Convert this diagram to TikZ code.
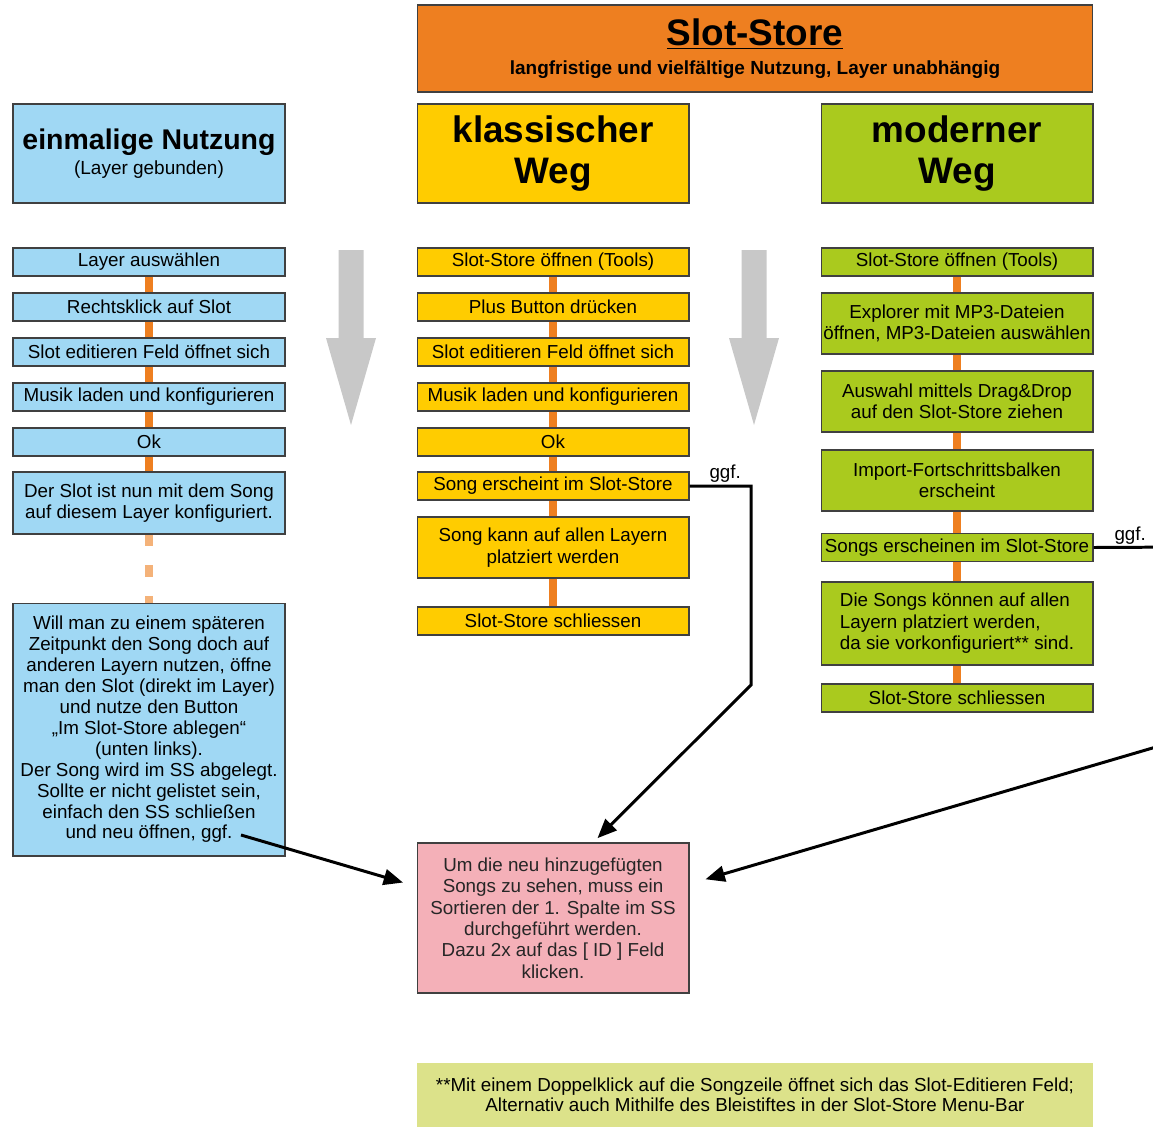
\documentclass[tikz,border=0pt]{standalone}
\usepackage{fontspec}
\setmainfont{Liberation Sans}
\usetikzlibrary{arrows.meta}

\definecolor{storeorange}{RGB}{238,127,32}
\definecolor{onceblue}{RGB}{160,216,244}
\definecolor{classicyellow}{RGB}{255,204,0}
\definecolor{moderngreen}{RGB}{170,202,30}
\definecolor{hintpink}{RGB}{244,176,184}
\definecolor{notegreen}{RGB}{220,226,138}
\definecolor{arrowgray}{RGB}{200,200,200}
\definecolor{boxline}{RGB}{64,64,64}

\begin{document}
\begin{tikzpicture}[x=0.02cm,y=-0.02cm,
  box/.style={draw=boxline,line width=0.6pt,minimum width=5.44cm,inner sep=0pt,
    align=center,font=\fontsize{10.7}{12.2}\selectfont},
  oneline/.style={box,minimum height=0.56cm},
  twoline/.style={box,minimum height=1.22cm},
  head/.style={box,minimum height=1.98cm,font=\bfseries\fontsize{21}{23.5}\selectfont},
  link/.style={draw=storeorange,line width=4pt},
  jump/.style={black,line width=1.7pt,-{Triangle[length=11pt,width=9pt]}},
  hint/.style={inner sep=1pt,font=\fontsize{10.7}{12.2}\selectfont}
]
\useasboundingbox (0,0) rectangle (1153,1126);
\clip (0,0) rectangle (1153,1126);
\fill[white] (0,0) rectangle (1153,1126);

% title and headers
\node[box,fill=storeorange,minimum width=13.52cm,minimum height=1.74cm] (store) at (755,48.5)
  {{\fontsize{21}{23}\selectfont\bfseries\underline{Slot-Store}}\\[4pt]
   {\bfseries\fontsize{10.8}{13}\selectfont langfristige und vielfältige Nutzung, Layer unabhängig}};
\node[head,fill=onceblue,font=\fontsize{10.8}{14}\selectfont] (once) at (149,153.5)
  {{\bfseries\fontsize{16.2}{19}\selectfont einmalige Nutzung}\\(Layer gebunden)};
\node[head,fill=classicyellow] (classic) at (553,153.5) {klassischer\\Weg};
\node[head,fill=moderngreen] (modern) at (957,153.5) {moderner\\Weg};

% einmalige Nutzung
\node[oneline,fill=onceblue] (l1) at (149,262) {Layer auswählen};
\node[oneline,fill=onceblue] (l2) at (149,307) {Rechtsklick auf Slot};
\node[oneline,fill=onceblue] (l3) at (149,352) {Slot editieren Feld öffnet sich};
\node[oneline,fill=onceblue] (l4) at (149,397) {Musik laden und konfigurieren};
\node[oneline,fill=onceblue] (l5) at (149,442) {Ok};
\node[box,fill=onceblue,minimum height=1.24cm] (l6) at (149,503)
  {Der Slot ist nun mit dem Song\\auf diesem Layer konfiguriert.};
\node[box,fill=onceblue,minimum height=5.06cm,font=\fontsize{10.7}{11.9}\selectfont] (l7) at (149,729.5)
  {Will man zu einem späteren\\Zeitpunkt den Song doch auf\\anderen Layern nutzen, öffne\\
   man den Slot (direkt im Layer)\\und nutze den Button\\„Im Slot-Store ablegen“\\(unten links).\\
   Der Song wird im SS abgelegt.\\Sollte er nicht gelistet sein,\\einfach den SS schließen\\und neu öffnen, ggf.};

% klassischer Weg
\node[oneline,fill=classicyellow] (m1) at (553,262) {Slot-Store öffnen (Tools)};
\node[oneline,fill=classicyellow] (m2) at (553,307) {Plus Button drücken};
\node[oneline,fill=classicyellow] (m3) at (553,352) {Slot editieren Feld öffnet sich};
\node[oneline,fill=classicyellow] (m4) at (553,397) {Musik laden und konfigurieren};
\node[oneline,fill=classicyellow] (m5) at (553,442) {Ok};
\node[oneline,fill=classicyellow] (m6) at (553,486) {Song erscheint im Slot-Store};
\node[twoline,fill=classicyellow] (m7) at (553,547.5) {Song kann auf allen Layern\\platziert werden};
\node[oneline,fill=classicyellow] (m8) at (553,621) {Slot-Store schliessen};

% moderner Weg
\node[oneline,fill=moderngreen] (r1) at (957,262) {Slot-Store öffnen (Tools)};
\node[twoline,fill=moderngreen] (r2) at (957,323.5) {Explorer mit MP3-Dateien\\öffnen, MP3-Dateien auswählen};
\node[twoline,fill=moderngreen] (r3) at (957,401.5) {Auswahl mittels Drag\&Drop\\auf den Slot-Store ziehen};
\node[twoline,fill=moderngreen] (r4) at (957,480.5) {Import-Fortschrittsbalken\\erscheint};
\node[oneline,fill=moderngreen] (r5) at (957,547.5) {Songs erscheinen im Slot-Store};
\node[box,fill=moderngreen,minimum height=1.66cm,align=left] (r6) at (957,623.5)
  {Die Songs können auf allen\\Layern platziert werden,\\da sie vorkonfiguriert** sind.};
\node[oneline,fill=moderngreen] (r7) at (957,698) {Slot-Store schliessen};

% Sortier-Hinweis und Fussnote
\node[box,fill=hintpink,minimum height=3cm,text=black!85] (sorthint) at (553,918)
  {Um die neu hinzugefügten\\Songs zu sehen, muss ein\\Sortieren der 1. Spalte im SS\\
   durchgeführt werden.\\Dazu 2x auf das [ ID ] Feld\\klicken.};
\node[fill=notegreen,minimum width=13.52cm,minimum height=1.28cm,inner sep=0pt,align=center,
  font=\fontsize{10.7}{11.2}\selectfont] (note) at (755,1095)
  {**Mit einem Doppelklick auf die Songzeile öffnet sich das Slot-Editieren Feld;\\
   Alternativ auch Mithilfe des Bleistiftes in der Slot-Store Menu-Bar};

\foreach \a/\b in {l1/l2,l2/l3,l3/l4,l4/l5,l5/l6,
  m1/m2,m2/m3,m3/m4,m4/m5,m5/m6,m6/m7,m7/m8,
  r1/r2,r2/r3,r3/r4,r4/r5,r5/r6,r6/r7}
  \draw[link] (\a.south) -- (\b.north);
\draw[link,draw opacity=.6,dash pattern=on 6.5pt off 11pt] (l6.south) -- (l7.north);

% graue Richtungspfeile
\foreach \cx in {351,754}
  \fill[arrowgray] ({\cx-12.5},250) -- ({\cx+12.5},250) -- ({\cx+12.5},338) -- ({\cx+25},338)
    -- (\cx,425) -- ({\cx-25},338) -- ({\cx-12.5},338) -- cycle;

% ggf.-Verbindungen
\coordinate (ggfL) at (241,835);
\coordinate (bendM1) at (751,486);
\coordinate (bendM2) at (751,685);
\coordinate (bendR1) at (1190,547);
\coordinate (bendR2) at (1190,737);
\draw[jump,shorten >=8pt] (ggfL) -- (sorthint.167);
\draw[jump,shorten >=3.5pt] (m6.east) -- node[above,pos=.58,hint] {ggf.} (bendM1) -- (bendM2) -- (sorthint.62);
\draw[jump,shorten >=9.5pt] (r5.east) -- node[above,pos=.38,hint] {ggf.} (bendR1) -- (bendR2) -- (sorthint.14);
\end{tikzpicture}
\end{document}
